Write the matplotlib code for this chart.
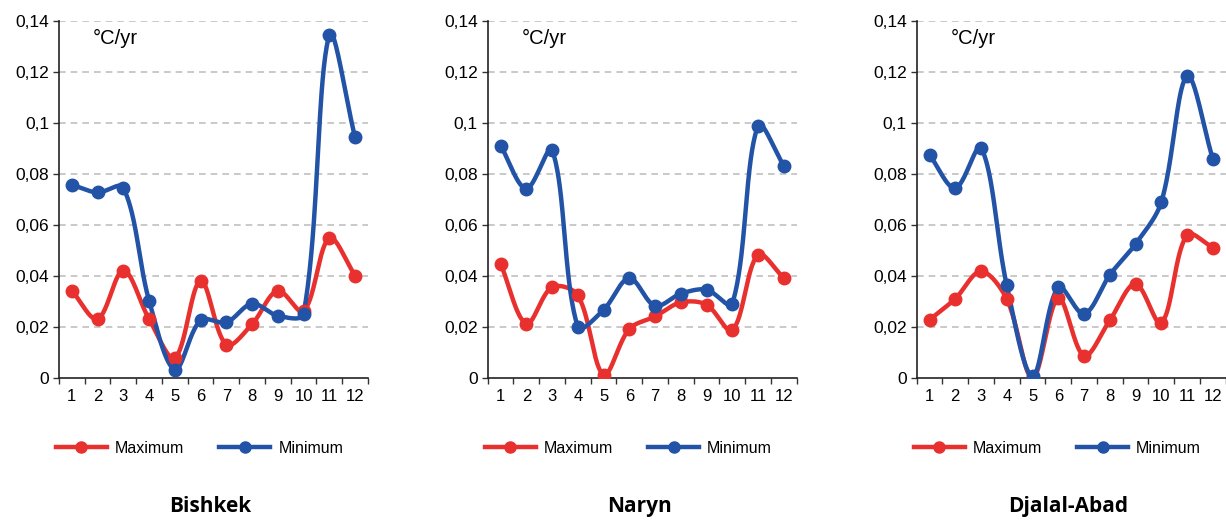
import numpy as np
import matplotlib
matplotlib.use("Agg")
import matplotlib.pyplot as plt
from matplotlib.ticker import FuncFormatter, MultipleLocator
from matplotlib.lines import Line2D

months = list(range(1, 13))

stations = ["Bishkek", "Naryn", "Djalal-Abad"]

bishkek_max = [0.0342, 0.0231, 0.0421, 0.0231, 0.0078, 0.0381, 0.0130, 0.0211, 0.0342, 0.0261, 0.0548, 0.0401]
bishkek_min = [0.0757, 0.0727, 0.0746, 0.0303, 0.0033, 0.0226, 0.0218, 0.0291, 0.0244, 0.0251, 0.1344, 0.0943]

naryn_max = [0.0448, 0.0213, 0.0356, 0.0324, 0.0013, 0.0192, 0.0241, 0.0296, 0.0287, 0.0187, 0.0483, 0.0391]
naryn_min = [0.0911, 0.0742, 0.0894, 0.0200, 0.0267, 0.0391, 0.0283, 0.0330, 0.0346, 0.0291, 0.0989, 0.0832]

djalal_max = [0.0228, 0.0311, 0.0418, 0.0309, 0.0000, 0.0313, 0.0087, 0.0226, 0.0369, 0.0215, 0.0561, 0.0511]
djalal_min = [0.0874, 0.0744, 0.0903, 0.0363, 0.0007, 0.0356, 0.0251, 0.0404, 0.0525, 0.0689, 0.1183, 0.0859]

max_series = [bishkek_max, naryn_max, djalal_max]
min_series = [bishkek_min, naryn_min, djalal_min]

red = "#E8312F"
blue = "#2253A6"


def smooth(ax, x, y, n=40):
    # bezier through the points, tangents split by segment length (excel-ish smoothing)
    P = ax.transData.transform(np.column_stack([x, y]))
    m = len(P)
    out = []
    t = np.linspace(0, 1, n)[:, None]
    for i in range(m - 1):
        a, b = P[i], P[i + 1]
        if i == 0:
            c1 = a + (b - a) / 3
        else:
            T = b - P[i - 1]
            d1 = np.linalg.norm(a - P[i - 1]); d2 = np.linalg.norm(b - a)
            c1 = a + T * d2 / (d1 + d2) / 3
        if i + 1 == m - 1:
            c2 = b - (b - a) / 3
        else:
            T = P[i + 2] - a
            d1 = np.linalg.norm(b - a); d2 = np.linalg.norm(P[i + 2] - b)
            c2 = b - T * d1 / (d1 + d2) / 3
        seg = (1 - t) ** 3 * a + 3 * (1 - t) ** 2 * t * c1 + 3 * (1 - t) * t ** 2 * c2 + t ** 3 * b
        out.append(seg)
    pts = ax.transData.inverted().transform(np.vstack(out))
    return pts[:, 0], pts[:, 1]


plt.rcParams['font.family'] = ['Liberation Sans', 'DejaVu Sans']

fig = plt.figure(figsize=(12.26, 5.22), dpi=100)

lefts = [0.0481, 0.3978, 0.7477]
fmt = FuncFormatter(lambda v, pos: ("%g" % round(v, 2)).replace(".", ","))

for k in range(3):
    ax = fig.add_axes([lefts[k], 0.2759, 0.252, 0.6844])
    ax.set_xlim(0.5, 12.5)
    ax.set_ylim(0, 0.14)
    for vals, col in ((max_series[k], red), (min_series[k], blue)):
        sx, sy = smooth(ax, months, vals)
        ax.plot(sx, sy, color=col, lw=3.2, solid_capstyle='round', zorder=3)
        ax.plot(months, vals, 'o', color=col, ms=9, zorder=4)

    ax.yaxis.set_major_locator(MultipleLocator(0.02))
    ax.yaxis.set_major_formatter(fmt)
    ax.set_xticks(months)
    ax.set_xticks(np.arange(0.5, 13, 1), minor=True)
    ax.tick_params(axis='x', which='major', length=0, pad=8, labelsize=12)
    ax.tick_params(axis='x', which='minor', length=4, width=1, color='#333333')
    ax.tick_params(axis='y', length=4, width=1, color='#333333', labelsize=12.5, pad=3)
    for s in ('top', 'right'):
        ax.spines[s].set_visible(False)
    for s in ('left', 'bottom'):
        ax.spines[s].set_color('#222222')
        ax.spines[s].set_linewidth(1.2)
    for v in np.arange(0.02, 0.141, 0.02):
        ax.axhline(v, color='#c0c0c0', lw=1.2, ls=(0, (4, 3)), zorder=1)

    ax.text(0.11, 0.95, "°C/yr", transform=ax.transAxes, fontsize=14.5,
            ha='left', va='center')

    handles = [Line2D([], [], color=red, lw=3.2, marker='o', ms=8),
               Line2D([], [], color=blue, lw=3.2, marker='o', ms=8)]
    ax.legend(handles, ["Maximum", "Minimum"], loc='center',
              bbox_to_anchor=(0.455, -0.196), ncol=2, frameon=False,
              fontsize=11.5, handlelength=3.2, columnspacing=2.2, handletextpad=0.5)

    ax.text(0.49, -0.361, stations[k], transform=ax.transAxes, fontsize=15,
            fontweight='bold', ha='center', va='center', family=['Open Sans', 'DejaVu Sans'])

fig.savefig("out.png", dpi=100)
